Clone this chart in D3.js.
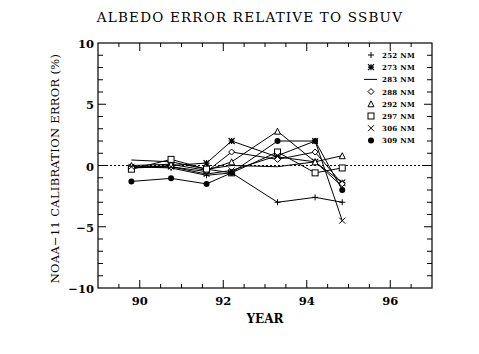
<!DOCTYPE html>
<html>
<head>
<meta charset="utf-8">
<script src="https://cdn.jsdelivr.net/npm/d3@7"></script>
<style>
  body { margin: 0; background: #fff; }
  text { font-family: "DejaVu Serif", "Liberation Serif", serif; font-weight: bold; fill: #000; }
</style>
</head>
<body>
<svg id="chart" width="479" height="354"></svg>
<script>
// years of the comparison flights
const years = [89.8, 90.75, 91.6, 92.2, 93.3, 94.2, 94.85];

const wl252 = [-0.1, -0.2, -0.8, -0.6, -3.0, -2.6, -3.0];
const wl273 = [-0.2, 0.0, 0.2, 2.0, 0.7, 0.3, -1.4];
const wl283 = [0.45, 0.3, -0.3, 0.0, -0.1, 0.3, -1.7];
const wl288 = [-0.2, -0.1, -0.5, 1.1, 0.5, 1.1, -1.5];
const wl292 = [0.0, 0.1, -0.4, 0.3, 2.8, 0.3, 0.8];
const wl297 = [-0.3, 0.5, -0.3, -0.6, 1.1, -0.6, -0.2];
const wl306 = [-0.1, -0.1, -0.7, -0.4, 0.8, 2.0, -4.5];
const wl309 = [-1.3, -1.05, -1.5, -0.6, 2.0, 2.0, -2.0];

const seriesNames = ["252 NM", "273 NM", "283 NM", "288 NM", "292 NM", "297 NM", "306 NM", "309 NM"];
const seriesSymbols = ["plus", "aster", "none", "diamond", "triangle", "square", "cross", "dot"];
const seriesValues = [wl252, wl273, wl283, wl288, wl292, wl297, wl306, wl309];

const xTicks = [90, 92, 94, 96];
const yTicks = [-10, -5, 0, 5, 10];

let svg = d3.select("#chart");

let xr1 = 98, xr2 = 432;
let yr1 = 43, yr2 = 288;

let xScale = d3.scaleLinear().domain([89, 97]).range([xr1, xr2]);
let yScale = d3.scaleLinear().domain([-10, 10]).range([yr2, yr1]);

// frame
svg.append("rect")
    .attr("x", xr1).attr("y", yr1)
    .attr("width", xr2 - xr1).attr("height", yr2 - yr1)
    .attr("fill", "none").attr("stroke", "#000").attr("stroke-width", 1.2);

// ticks on all four sides, pointing inward
let xMinor = d3.range(89.5, 97, 0.5);
let yMinor = d3.range(-9, 10, 1);

let tickG = svg.append("g").attr("stroke", "#000").attr("stroke-width", 1);
xMinor.forEach(v => {
    let len = (v % 2 === 0) ? 8 : 4;
    tickG.append("line").attr("x1", xScale(v)).attr("x2", xScale(v)).attr("y1", yr2).attr("y2", yr2 - len);
    tickG.append("line").attr("x1", xScale(v)).attr("x2", xScale(v)).attr("y1", yr1).attr("y2", yr1 + len);
});
yMinor.forEach(v => {
    let len = (v % 5 === 0) ? 8 : 5;
    tickG.append("line").attr("x1", xr1).attr("x2", xr1 + len).attr("y1", yScale(v)).attr("y2", yScale(v));
    tickG.append("line").attr("x1", xr2).attr("x2", xr2 - len).attr("y1", yScale(v)).attr("y2", yScale(v));
});

// tick labels
svg.append("g").selectAll("text").data(xTicks).enter().append("text")
    .attr("x", d => xScale(d)).attr("y", 305)
    .attr("text-anchor", "middle").attr("font-size", 11.5)
    .text(d => d);
svg.append("g").selectAll("text").data(yTicks).enter().append("text")
    .attr("x", xr1 - 4).attr("y", d => yScale(d) + 5)
    .attr("text-anchor", "end").attr("font-size", 11.5)
    .text(d => d < 0 ? "\u2212" + Math.abs(d) : d);

// titles
svg.append("text").attr("x", 250).attr("y", 22).attr("text-anchor", "middle")
    .attr("font-size", 13.5).style("font-weight", "normal").attr("letter-spacing", 1.2)
    .text("ALBEDO ERROR RELATIVE TO SSBUV");
svg.append("text").attr("x", 265).attr("y", 323).attr("text-anchor", "middle")
    .attr("font-size", 12)
    .text("YEAR");
svg.append("text")
    .attr("transform", "translate(59," + ((yr1 + yr2) / 2 + 3) + ") rotate(-90)")
    .attr("text-anchor", "middle").attr("font-size", 11.5).style("font-weight", "normal")
    .attr("letter-spacing", 0.3)
    .text("NOAA\u221211 CALIBRATION ERROR (%)");

// zero reference
svg.append("line")
    .attr("x1", xr1).attr("x2", xr2).attr("y1", yScale(0)).attr("y2", yScale(0))
    .attr("stroke", "#000").attr("stroke-dasharray", "2,2");

function drawSymbol(g, type, x, y) {
    let s = 3;
    if (type === "plus") {
        g.append("path").attr("d", `M${x - s},${y}H${x + s}M${x},${y - s}V${y + s}`)
            .attr("stroke", "#000").attr("fill", "none");
    } else if (type === "aster") {
        g.append("path").attr("d", `M${x - s},${y}H${x + s}M${x},${y - s}V${y + s}M${x - s},${y - s}L${x + s},${y + s}M${x - s},${y + s}L${x + s},${y - s}`)
            .attr("stroke", "#000").attr("fill", "none").attr("stroke-width", 1.2);
    } else if (type === "diamond") {
        g.append("path").attr("d", `M${x},${y - s}L${x + s},${y}L${x},${y + s}L${x - s},${y}Z`)
            .attr("stroke", "#000").attr("fill", "#fff");
    } else if (type === "triangle") {
        g.append("path").attr("d", `M${x},${y - s}L${x + s},${y + s}L${x - s},${y + s}Z`)
            .attr("stroke", "#000").attr("fill", "#fff");
    } else if (type === "square") {
        g.append("rect").attr("x", x - s).attr("y", y - s).attr("width", 2 * s).attr("height", 2 * s)
            .attr("stroke", "#000").attr("fill", "#fff");
    } else if (type === "cross") {
        g.append("path").attr("d", `M${x - s},${y - s}L${x + s},${y + s}M${x - s},${y + s}L${x + s},${y - s}`)
            .attr("stroke", "#000").attr("fill", "none");
    } else if (type === "dot") {
        g.append("circle").attr("cx", x).attr("cy", y).attr("r", 3).attr("fill", "#000");
    }
}

let line = d3.line().x(d => xScale(d[0])).y(d => yScale(d[1]));

let lineG = svg.append("g");
seriesValues.forEach((vals, i) => {
    let pts = years.map((yr, j) => [yr, vals[j]]);
    lineG.append("path").datum(pts).attr("d", line)
        .attr("fill", "none").attr("stroke", "#000").attr("stroke-width", 1);
});
let markG = svg.append("g");
seriesValues.forEach((vals, i) => {
    years.forEach((yr, j) => drawSymbol(markG, seriesSymbols[i], xScale(yr), yScale(vals[j])));
});

// legend
let legG = svg.append("g");
seriesNames.forEach((name, i) => {
    let ly = 55 + i * 12.2;
    if (seriesSymbols[i] === "none") {
        legG.append("line").attr("x1", 364).attr("x2", 377).attr("y1", ly).attr("y2", ly).attr("stroke", "#000");
    } else {
        drawSymbol(legG, seriesSymbols[i], 371, ly);
    }
    legG.append("text").attr("x", 382).attr("y", ly + 3)
        .attr("font-size", 7).attr("letter-spacing", 0.3)
        .text(name);
});
</script>
</body>
</html>
